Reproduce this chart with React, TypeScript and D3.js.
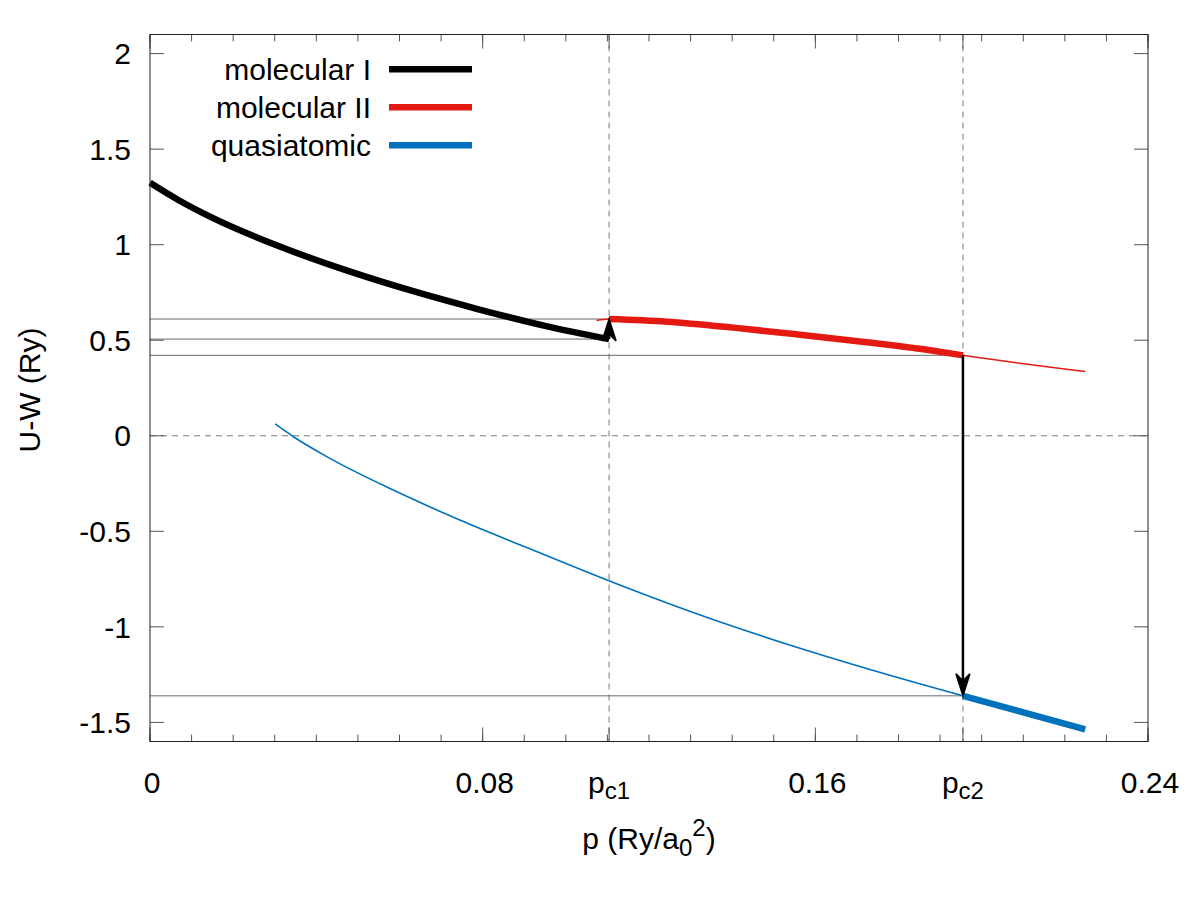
import React from "react";
import * as d3 from "d3";

// Critical pressures (Ry/a0^2)
const pc1 = 0.1104;
const pc2 = 0.1955;

// molecular I branch
const molIP = [0, 0.0068, 0.0148, 0.0309, 0.0469, 0.0629, 0.079, 0.095, pc1];
const molIU = [1.324, 1.234, 1.143, 0.993, 0.868, 0.759, 0.662, 0.575, 0.506];

// molecular II branch
const molIIP = [0.1074, pc1, 0.1243, 0.1403, 0.1563, 0.1724, 0.1884, pc2, 0.2249];
const molIIU = [0.603, 0.611, 0.597, 0.566, 0.529, 0.489, 0.445, 0.421, 0.336];

// quasiatomic branch
const quasiP = [0.0301, 0.0345, 0.0425, 0.0585, 0.0745, 0.0906, 0.1105, 0.1323, 0.1563, 0.1804, pc2, 0.2249];
const quasiU = [0.062, -0.005, -0.109, -0.284, -0.441, -0.585, -0.76, -0.938, -1.112, -1.269, -1.361, -1.537];

const yTicks = [2, 1.5, 1, 0.5, 0, -0.5, -1, -1.5];
const xTickValues = [0, 0.08, pc1, 0.16, pc2, 0.24];
const xTickLabels = ["0", "0.08", "pc1", "0.16", "pc2", "0.24"];
const xMinorStep = 0.01;

const legendNames = ["molecular I", "molecular II", "quasiatomic"];
const seriesColors = ["#000000", "#e41a12", "#0072bd"];

const W = 1200;
const H = 900;
const left = 150;
const right = 1148;
const top = 34.5;
const bottom = 741.5;
const FONT = "'Liberation Sans', Arial, Helvetica, sans-serif";
const FS = 30;
const SUB = 24;

const x = d3.scaleLinear().domain([0, 0.24]).range([left, right]);
const y = d3.scaleLinear().domain([-1.6, 2.1]).range([bottom, top]);

type Pt = [number, number];
const zip = (ps: number[], us: number[]): Pt[] => ps.map((p, i) => [p, us[i]]);

const line = d3
  .line<Pt>()
  .x((d) => x(d[0]))
  .y((d) => y(d[1]))
  .curve(d3.curveMonotoneX);

const molI = zip(molIP, molIU);
const molII = zip(molIIP, molIIU);
const quasi = zip(quasiP, quasiU);

const inRange = (pts: Pt[], a: number, b: number) => pts.filter((d) => d[0] >= a - 1e-9 && d[0] <= b + 1e-9);

const uAt = (pts: Pt[], p: number) => pts.find((d) => Math.abs(d[0] - p) < 1e-9)![1];

// Arrowhead: tip at (tx, ty), pointing up (dir=-1) or down (dir=1)
function arrowHead(tx: number, ty: number, dir: number) {
  const len = 22;
  const half = 7;
  const notch = 15;
  const by = ty - dir * len;
  const ny = ty - dir * notch;
  return `M${tx},${ty} L${tx - half},${by} L${tx},${ny} L${tx + half},${by} Z`;
}

function Arrow({ p, from, to }: { p: number; from: number; to: number }) {
  const px = x(p);
  const y0 = y(from);
  const y1 = y(to);
  const dir = y1 > y0 ? 1 : -1;
  return (
    <g>
      <line x1={px} x2={px} y1={y0} y2={y1 - dir * 14} stroke="#000" strokeWidth={2.5} />
      <path d={arrowHead(px, y1, dir)} fill="#000" stroke="#000" strokeWidth={1.5} strokeLinejoin="miter" />
    </g>
  );
}

function PLabel({ cx, cy, sub }: { cx: number; cy: number; sub: string }) {
  return (
    <text x={cx} y={cy} textAnchor="middle" fontSize={FS} fontFamily={FONT} fill="#000">
      p<tspan fontSize={SUB} dy={6}>{sub}</tspan>
    </text>
  );
}

export default function App() {
  const minor: number[] = d3.range(0, 0.24 + 1e-9, xMinorStep);
  const mI = uAt(molI, pc1);
  const mII1 = uAt(molII, pc1);
  const mII2 = uAt(molII, pc2);
  const q2 = uAt(quasi, pc2);

  return (
    <svg width={W} height={H} style={{ position: "absolute", left: 0, top: 0, background: "#fff" }}>
      {/* reference lines */}
      <g stroke="#777" strokeWidth={1} strokeDasharray="6,5" fill="none">
        <line x1={left} x2={right} y1={y(0)} y2={y(0)} />
        <line x1={x(pc1)} x2={x(pc1)} y1={top} y2={bottom} />
        <line x1={x(pc2)} x2={x(pc2)} y1={top} y2={bottom} />
      </g>
      <g stroke="#6a6a6a" strokeWidth={1}>
        <line x1={left} x2={x(pc1)} y1={y(mII1)} y2={y(mII1)} />
        <line x1={left} x2={x(pc1)} y1={y(mI)} y2={y(mI)} />
        <line x1={left} x2={x(pc2)} y1={y(mII2)} y2={y(mII2)} />
        <line x1={left} x2={x(pc2)} y1={y(q2)} y2={y(q2)} />
      </g>

      {/* ticks */}
      <g stroke="#555" strokeWidth={1}>
        {minor.map((v, i) => (
          <g key={"m" + i}>
            <line x1={x(v)} x2={x(v)} y1={bottom} y2={bottom - 7} />
            <line x1={x(v)} x2={x(v)} y1={top} y2={top + 7} />
          </g>
        ))}
        {xTickValues.map((v, i) => (
          <g key={"M" + i}>
            <line x1={x(v)} x2={x(v)} y1={bottom} y2={bottom - 14} />
            <line x1={x(v)} x2={x(v)} y1={top} y2={top + 14} />
          </g>
        ))}
        {yTicks.map((v, i) => (
          <g key={"y" + i}>
            <line x1={left} x2={left + 14} y1={y(v)} y2={y(v)} />
            <line x1={right} x2={right - 14} y1={y(v)} y2={y(v)} />
          </g>
        ))}
      </g>

      {/* curves: thin full branches, thick where each phase is stable */}
      <g fill="none" strokeLinecap="butt" strokeLinejoin="round">
        <path d={line(quasi)!} stroke={seriesColors[2]} strokeWidth={1.6} />
        <path d={line(molII)!} stroke={seriesColors[1]} strokeWidth={1.6} />
        <path d={line(inRange(quasi, pc2, 1))!} stroke={seriesColors[2]} strokeWidth={6.5} />
        <path d={line(inRange(molII, pc1, pc2))!} stroke={seriesColors[1]} strokeWidth={6.5} />
        <path d={line(molI)!} stroke={seriesColors[0]} strokeWidth={6.5} />
      </g>

      {/* transitions */}
      <Arrow p={pc1} from={mI} to={mII1} />
      <Arrow p={pc2} from={mII2} to={q2} />

      {/* frame */}
      <rect x={left} y={top} width={right - left} height={bottom - top} fill="none" stroke="#222" strokeWidth={1} />

      {/* y tick labels */}
      {yTicks.map((v, i) => (
        <text key={"yl" + i} x={131} y={y(v) + 10.7} textAnchor="end" fontSize={FS} fontFamily={FONT} fill="#000">
          {String(v)}
        </text>
      ))}

      {/* x tick labels */}
      {xTickValues.map((v, i) => {
        const lab = xTickLabels[i];
        if (lab.startsWith("p")) {
          return <PLabel key={"xl" + i} cx={x(v)} cy={793} sub={lab.slice(1)} />;
        }
        return (
          <text key={"xl" + i} x={x(v) + 2} y={793} textAnchor="middle" fontSize={FS} fontFamily={FONT} fill="#000">
            {lab}
          </text>
        );
      })}

      {/* axis titles */}
      <text x={649} y={849} textAnchor="middle" fontSize={FS} fontFamily={FONT} fill="#000">
        p (Ry/a<tspan fontSize={SUB} dy={7}>0</tspan>
        <tspan fontSize={SUB} dy={-20}>2</tspan>
        <tspan dy={13}>)</tspan>
      </text>
      <text
        transform={`translate(40,390) rotate(-90)`}
        textAnchor="middle"
        fontSize={FS}
        fontFamily={FONT}
        fill="#000"
      >
        U-W (Ry)
      </text>

      {/* legend */}
      {legendNames.map((n, i) => {
        const cy = 69.3 + i * 38;
        return (
          <g key={"lg" + i}>
            <text x={371} y={cy + 10.7} textAnchor="end" fontSize={FS} fontFamily={FONT} fill="#000">
              {n}
            </text>
            <line x1={389} x2={472} y1={cy} y2={cy} stroke={seriesColors[i]} strokeWidth={6.5} />
          </g>
        );
      })}
    </svg>
  );
}
